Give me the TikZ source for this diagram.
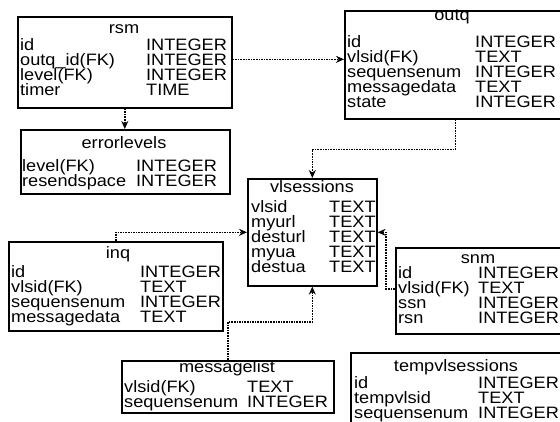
\documentclass[tikz,border=0pt]{standalone}
\usepackage{fontspec}
\setmainfont{Liberation Sans}[FakeStretch=1.1]
\usetikzlibrary{arrows.meta}

\tikzset{
  tbl/.style={draw, line width=1.6pt, anchor=north west, inner sep=0pt},
  ttl/.style={anchor=base, inner sep=0pt},
  fld/.style={anchor=base west, inner sep=0pt},
  link/.style={->, densely dotted, line width=1.6pt},
}

\begin{document}
\begin{tikzpicture}[x=1pt, y=-1pt, >={Stealth[length=8pt,width=7pt]}, font=\fontsize{16.5pt}{18pt}\selectfont]
\useasboundingbox (0,0) rectangle (560,421);
% rsm
\node[tbl, minimum width=214pt, minimum height=91pt] (rsm) at (17,16) {};
\node[ttl] (rsm-ttl) at (124,33) {rsm};
\foreach \fn/\ty [count=\i] in {id/INTEGER, outq\_id(FK)/INTEGER, level(FK)/INTEGER, timer/TIME}
  {\node[fld] (rsm-f\i) at (20,35+15*\i) {\fn};
   \node[fld] (rsm-t\i) at (146,35+15*\i) {\ty};}
% errorlevels
\node[tbl, minimum width=209pt, minimum height=64pt] (errorlevels) at (20,129) {};
\node[ttl] (errorlevels-ttl) at (124,148) {errorlevels};
\foreach \fn/\ty [count=\i] in {level(FK)/INTEGER, resendspace/INTEGER}
  {\node[fld] (errorlevels-f\i) at (22,156+15*\i) {\fn};
   \node[fld] (errorlevels-t\i) at (136,156+15*\i) {\ty};}
% outq
\node[tbl, minimum width=221pt, minimum height=108pt] (outq) at (344,10) {};
\node[ttl] (outq-ttl) at (452,20) {outq};
\foreach \fn/\ty [count=\i] in {id/INTEGER, vlsid(FK)/TEXT, sequensenum/INTEGER, messagedata/TEXT, state/INTEGER}
  {\node[fld] (outq-f\i) at (347,32+15*\i) {\fn};
   \node[fld] (outq-t\i) at (475,32+15*\i) {\ty};}
% vlsessions
\node[tbl, minimum width=129pt, minimum height=107pt] (vlsessions) at (247,178) {};
\node[ttl] (vlsessions-ttl) at (312,192) {vlsessions};
\foreach \fn/\ty [count=\i] in {vlsid/TEXT, myurl/TEXT, desturl/TEXT, myua/TEXT, destua/TEXT}
  {\node[fld] (vlsessions-f\i) at (251,197+15*\i) {\fn};
   \node[fld] (vlsessions-t\i) at (329,197+15*\i) {\ty};}
% inq
\node[tbl, minimum width=214pt, minimum height=89pt] (inq) at (8,241) {};
\node[ttl] (inq-ttl) at (118,258) {inq};
\foreach \fn/\ty [count=\i] in {id/INTEGER, vlsid(FK)/TEXT, sequensenum/INTEGER, messagedata/TEXT}
  {\node[fld] (inq-f\i) at (11,262+15*\i) {\fn};
   \node[fld] (inq-t\i) at (140,262+15*\i) {\ty};}
% snm
\node[tbl, minimum width=170pt, minimum height=86pt] (snm) at (395,247) {};
\node[ttl] (snm-ttl) at (478,263) {snm};
\foreach \fn/\ty [count=\i] in {id/INTEGER, vlsid(FK)/TEXT, ssn/INTEGER, rsn/INTEGER}
  {\node[fld] (snm-f\i) at (398,263+15*\i) {\fn};
   \node[fld] (snm-t\i) at (478,263+15*\i) {\ty};}
% messagelist
\node[tbl, minimum width=212pt, minimum height=52pt] (messagelist) at (121,360) {};
\node[ttl] (messagelist-ttl) at (227,372) {messagelist};
\foreach \fn/\ty [count=\i] in {vlsid(FK)/TEXT, sequensenum/INTEGER}
  {\node[fld] (messagelist-f\i) at (124,377+15*\i) {\fn};
   \node[fld] (messagelist-t\i) at (247,377+15*\i) {\ty};}
% tempvlsessions
\node[tbl, minimum width=215pt, minimum height=80pt] (tempvlsessions) at (350,352) {};
\node[ttl] (tempvlsessions-ttl) at (456,371) {tempvlsessions};
\foreach \fn/\ty [count=\i] in {id/INTEGER, tempvlsid/TEXT, sequensenum/INTEGER}
  {\node[fld] (tempvlsessions-f\i) at (354,373+15*\i) {\fn};
   \node[fld] (tempvlsessions-t\i) at (478,373+15*\i) {\ty};}
% links
\draw[link] (rsm.east |- rsm-t2) -- (outq.west |- rsm-t2);
\draw[link] (rsm.south) -- (rsm.south |- errorlevels.north);
\draw[link] (outq.south) -- ++(0,30) -| (vlsessions.north);
\draw[link] (inq.north) |- (vlsessions.west);
\draw[link] (snm.west |- snm-f2) -- ++(-9,0) |- (vlsessions.east);
\draw[link] (messagelist.north) -- ++(0,-38) -| (vlsessions.south);
\end{tikzpicture}
\end{document}
